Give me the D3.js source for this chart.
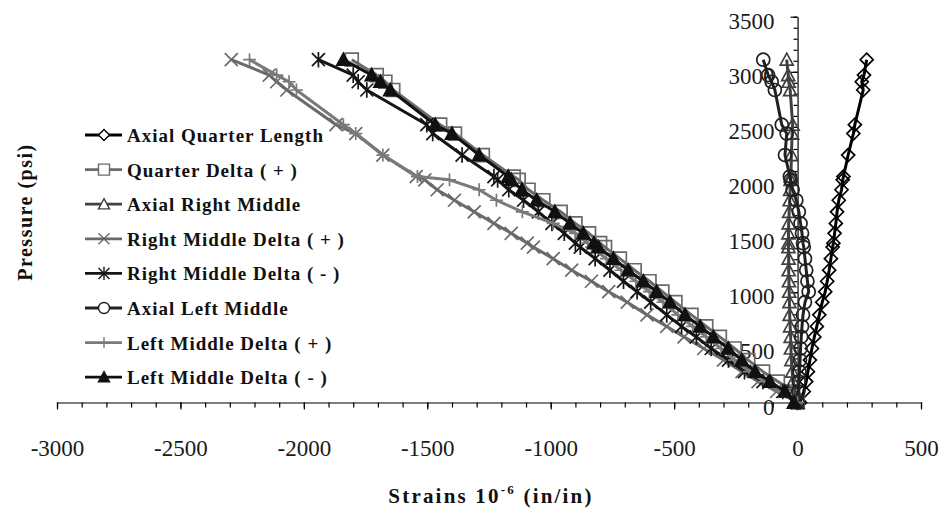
<!DOCTYPE html>
<html>
<head>
<meta charset="utf-8">
<script src="https://cdn.jsdelivr.net/npm/d3@7"></script>
<style>
  body { margin: 0; background: #fff; }
  svg { display: block; }
  text { font-family: "Liberation Serif", "Times New Roman", serif; }
</style>
</head>
<body>
<svg id="chart" width="944" height="515"></svg>
<script>
// pressure steps (psi), shared by every gauge
var pressure = [0, 100, 190, 280, 385, 490, 595, 690, 795, 910, 1005, 1100, 1200, 1305, 1410,
                1445, 1535, 1625, 1730, 1835, 1930, 2020, 2050, 2245, 2440, 2520, 2835, 2910, 2970, 3110];

// strains (10^-6 in/in)
var axialQuarter     = [10, 25, 35, 42, 50, 58, 68, 78, 88, 100, 112, 120, 128, 135, 142,
                        145, 150, 155, 160, 167, 178, 183, 186, 205, 226, 232, 266, 260, 269, 280];
var quarterDeltaPlus = [0, -18, -80, -140, -200, -255, -315, -370, -430, -495, -548, -600, -660, -720, -780,
                        -800, -845, -900, -960, -1030, -1090, -1130, -1150, -1275, -1388, -1448, -1638, -1670, -1705, -1806];
var axialRightMiddle = [0, -10, -18, -22, -25, -27, -28, -30, -32, -33, -34, -35, -36, -36, -37,
                        -37, -37, -36, -34, -32, -30, -28, -27, -25, -22, -20, -30, -36, -38, -44];
var rightDeltaPlus   = [0, -85, -160, -225, -300, -380, -460, -530, -610, -690, -765, -835, -915, -990, -1070,
                        -1095, -1160, -1230, -1310, -1390, -1460, -1510, -1545, -1680, -1790, -1870, -2069, -2110, -2140, -2294];
var rightDeltaMinus  = [0, -60, -140, -215, -280, -350, -410, -470, -530, -595, -650, -705, -760, -820, -880,
                        -900, -945, -995, -1050, -1110, -1170, -1215, -1230, -1359, -1478, -1502, -1745, -1780, -1800, -1941];
var axialLeftMiddle  = [0, 3, 5, 8, 10, 12, 15, 18, 22, 30, 45, 40, 35, 30, 25,
                        22, 18, 12, 5, -5, -20, -28, -31, -51, -44, -64, -92, -105, -119, -139];
var leftDeltaPlus    = [0, -70, -135, -195, -255, -310, -370, -425, -485, -545, -600, -655, -715, -775, -835,
                        -850, -900, -990, -1115, -1220, -1290, -1410, -1540, -1680, -1790, -1840, -2030, -2060, -2110, -2220];
var leftDeltaMinus   = [-15, -51, -112, -172, -226, -281, -341, -395, -456, -517, -571, -625, -686, -746, -807,
                        -825, -868, -922, -983, -1057, -1117, -1160, -1172, -1290, -1400, -1468, -1650, -1690, -1725, -1840];

var seriesNames = ["Axial Quarter Length", "Quarter Delta ( + )", "Axial Right Middle",
                   "Right Middle Delta ( + )", "Right Middle Delta ( - )", "Axial Left Middle",
                   "Left Middle Delta ( + )", "Left Middle Delta ( - )"];
var seriesValues = [axialQuarter, quarterDeltaPlus, axialRightMiddle, rightDeltaPlus,
                    rightDeltaMinus, axialLeftMiddle, leftDeltaPlus, leftDeltaMinus];
var xTicks = [-3000, -2500, -2000, -1500, -1000, -500, 0, 500];
var yTicks = [0, 500, 1000, 1500, 2000, 2500, 3000, 3500];

var styles = [
  {color: "#000", marker: "diamond",  fill: false},
  {color: "#6a6a6a", marker: "square", fill: false},
  {color: "#404040", marker: "triangle", fill: false},
  {color: "#6a6a6a", marker: "x", fill: false},
  {color: "#151515", marker: "star", fill: false},
  {color: "#202020", marker: "circle", fill: false},
  {color: "#7a7a7a", marker: "plus", fill: false},
  {color: "#111", marker: "triangle", fill: true}
];

function markerPath(type, r) {
  switch (type) {
    case "diamond":  return "M0," + (-r) + "L" + r + ",0L0," + r + "L" + (-r) + ",0Z";
    case "square":   return "M" + (-r) + "," + (-r) + "h" + 2 * r + "v" + 2 * r + "h" + (-2 * r) + "Z";
    case "triangle": return "M0," + (-r) + "L" + r + "," + (r * 0.85) + "L" + (-r) + "," + (r * 0.85) + "Z";
    case "x":        return "M" + (-r) + "," + (-r) + "L" + r + "," + r + "M" + (-r) + "," + r + "L" + r + "," + (-r);
    case "star":     return "M" + (-r) + "," + (-r) + "L" + r + "," + r + "M" + (-r) + "," + r + "L" + r + "," + (-r) +
                            "M0," + (-r * 1.2) + "L0," + (r * 1.2);
    case "plus":     return "M0," + (-r) + "L0," + r + "M" + (-r) + ",0L" + r + ",0";
    case "circle":   return "M" + r + ",0A" + r + "," + r + " 0 1,1 " + (-r) + ",0A" + r + "," + r + " 0 1,1 " + r + ",0Z";
  }
}

var svg = d3.select("#chart");

var x = d3.scaleLinear().domain([-3000, 500]).range([57, 921]);
var y = d3.scaleLinear().domain([0, 3500]).range([402.5, 16.7]);

var plainNum = function(d) { return String(d); };

// x axis: minor ticks every 100, major every 500
var gx = svg.append("g").attr("transform", "translate(0," + y(0) + ")");
gx.append("g")
  .call(d3.axisBottom(x).tickValues(d3.range(-3000, 501, 100)).tickSize(5).tickSizeOuter(0).tickFormat(""));
gx.append("g")
  .call(d3.axisBottom(x).tickValues(xTicks).tickSize(7).tickPadding(30).tickFormat(plainNum))
  .call(function(g) { g.select(".domain").remove(); });

var gy = svg.append("g").attr("transform", "translate(" + x(0) + ",0)");
gy.append("g")
  .call(d3.axisLeft(y).tickValues(d3.range(0, 3501, 100)).tickSize(4).tickSizeOuter(0).tickFormat(""));
gy.append("g")
  .call(d3.axisLeft(y).tickValues(yTicks).tickSize(7).tickPadding(16).tickFormat(plainNum))
  .call(function(g) { g.select(".domain").remove(); });

svg.selectAll(".tick line, .domain").attr("stroke", "#000").attr("stroke-width", 1.2);
svg.selectAll(".tick text")
  .attr("font-family", "Liberation Serif")
  .attr("font-size", 23)
  .attr("fill", "#1a1a1a");
gy.selectAll(".tick text").attr("dy", "0.5em");

// series
var line = d3.line()
  .x(function(d) { return x(d[0]); })
  .y(function(d) { return y(d[1]); });

seriesValues.forEach(function(vals, i) {
  var st = styles[i];
  var pts = vals.map(function(v, k) { return [v, pressure[k]]; });
  var g = svg.append("g").attr("class", "series s" + i);
  g.append("path")
    .datum(pts)
    .attr("d", line)
    .attr("fill", "none")
    .attr("stroke", st.color)
    .attr("stroke-width", 3)
    .attr("stroke-linejoin", "round");
  g.selectAll("path.mk")
    .data(pts)
    .enter().append("path")
    .attr("class", "mk")
    .attr("transform", function(d) { return "translate(" + x(d[0]) + "," + y(d[1]) + ")"; })
    .attr("d", markerPath(st.marker, 6.5))
    .attr("fill", st.fill ? st.color : "none")
    .attr("stroke", st.color)
    .attr("stroke-width", 1.7);
});

// legend
var legend = svg.append("g");
seriesNames.forEach(function(name, i) {
  var st = styles[i];
  var ly = 135 + i * 34.6;
  var row = legend.append("g").attr("transform", "translate(0," + ly + ")");
  row.append("line")
    .attr("x1", 85).attr("x2", 122).attr("y1", 0).attr("y2", 0)
    .attr("stroke", st.color).attr("stroke-width", 2.8);
  row.append("path")
    .attr("transform", "translate(104,0)")
    .attr("d", markerPath(st.marker, 5.5))
    .attr("fill", st.fill ? st.color : "#fff")
    .attr("stroke", st.color)
    .attr("stroke-width", 1.4);
  row.append("text")
    .attr("x", 127).attr("y", 7)
    .attr("font-size", 19)
    .attr("font-weight", "bold")
    .attr("letter-spacing", 1)
    .attr("fill", "#111")
    .text(name);
});

// axis titles
var xt = svg.append("text")
  .attr("x", 491).attr("y", 503)
  .attr("text-anchor", "middle")
  .attr("font-size", 21)
  .attr("font-weight", "bold")
  .attr("letter-spacing", 2.2)
  .attr("fill", "#111");
xt.append("tspan").text("Strains 10");
xt.append("tspan").attr("dy", -9).attr("font-size", 13).text("-6");
xt.append("tspan").attr("dy", 9).text(" (in/in)");

svg.append("text")
  .attr("transform", "translate(32,212) rotate(-90)")
  .attr("text-anchor", "middle")
  .attr("font-size", 20)
  .attr("font-weight", "bold")
  .attr("letter-spacing", 1.5)
  .attr("fill", "#111")
  .text("Pressure (psi)");
</script>
</body>
</html>
